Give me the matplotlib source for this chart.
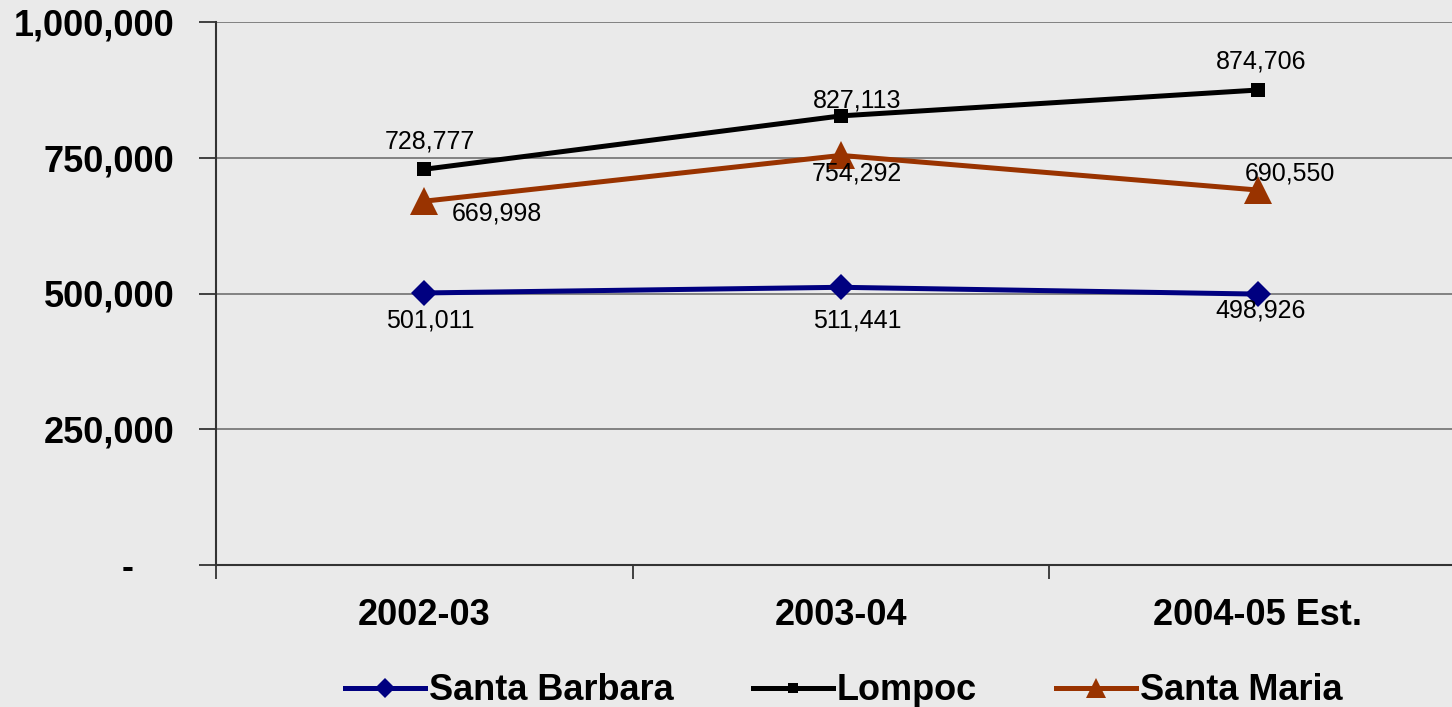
import matplotlib
matplotlib.use("Agg")
import matplotlib.pyplot as plt
from matplotlib.ticker import FixedLocator

# Données
annees = ["2002-03", "2003-04", "2004-05 Est."]
santa_barbara = [501011, 511441, 498926]
lompoc = [728777, 827113, 874706]
santa_maria = [669998, 754292, 690550]

# Décalage des étiquettes (pixels)
off_sb = [(6, -28), (16, -33), (3, -16)]
off_lo = [(6, 28), (16, 15), (3, 29)]
off_sm = [(73, -12), (16, -18), (32, 17)]

plt.rcParams["font.family"] = ["Liberation Sans", "DejaVu Sans"]
fond = "#eaeaea"

fig = plt.figure(figsize=(14.52, 7.07), dpi=100, facecolor=fond)
ax = fig.add_axes([216 / 1452, 1 - 565 / 707, 1 - 216 / 1452, (565 - 22) / 707])
ax.set_facecolor(fond)

x = range(len(annees))
series = [
    ("Santa Barbara", santa_barbara, "#000080", "D", 13.5, off_sb),
    ("Lompoc", lompoc, "#000000", "s", 9.5, off_lo),
    ("Santa Maria", santa_maria, "#993300", "^", 20, off_sm),
]
for nom, vals, c, m, ms, offs in series:
    ax.plot(x, vals, color=c, linewidth=3.6, marker=m, markersize=ms,
            markeredgewidth=0, label=nom, zorder=3)
    for xi, v, (dx, dy) in zip(x, vals, offs):
        ax.annotate(f"{v:,}", (xi, v), xytext=(dx, dy), textcoords="offset pixels",
                    ha="center", va="center", fontsize=18, color="black", zorder=4)

# Axes
ax.set_ylim(0, 1000000)
ax.set_xlim(-0.5, 2.5 - 14 / 416.5)
ax.set_yticks([0, 250000, 500000, 750000, 1000000])
ax.set_yticklabels(["-    ", "250,000", "500,000", "750,000", "1,000,000"],
                   fontsize=26, fontweight="bold")
ax.tick_params(axis="y", length=12, width=1.3, pad=18, color="#333333")
for yv in [250000, 500000, 750000, 1000000]:
    ax.axhline(yv, color="#707070", linewidth=1.2, zorder=1)

ax.xaxis.set_major_locator(FixedLocator([-0.5, 0.5, 1.5]))
ax.xaxis.set_minor_locator(FixedLocator([0, 1, 2]))
ax.set_xticklabels([], minor=False)
ax.set_xticklabels(annees, minor=True, fontsize=26, fontweight="bold")
ax.tick_params(axis="x", which="major", length=10, width=1.3, color="#333333")
ax.tick_params(axis="x", which="minor", length=0, pad=24)

for s in ["top", "right"]:
    ax.spines[s].set_visible(False)
for s in ["left", "bottom"]:
    ax.spines[s].set_linewidth(1.5)
    ax.spines[s].set_color("#333333")

fig.legend(loc="center", bbox_to_anchor=(844 / 1452, 1 - 691 / 707), ncol=3,
           frameon=False, prop={"size": 26, "weight": "bold"},
           handlelength=2.2, handletextpad=0.12, columnspacing=2.2,
           markerscale=0.75, borderaxespad=0)

fig.savefig("out.png", dpi=100, facecolor=fond)
